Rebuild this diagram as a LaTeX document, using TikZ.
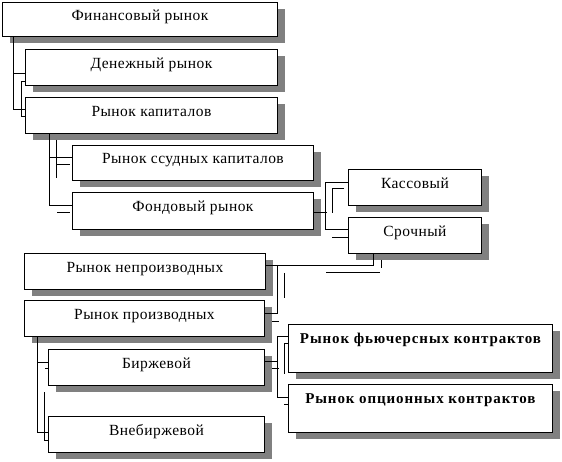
\documentclass[tikz,border=0pt]{standalone}
\usepackage{fontspec}
\setmainfont{Liberation Serif}
\usetikzlibrary{calc}
\tikzset{
  box/.style={draw=black, line width=0.9pt, fill=white, anchor=north west, inner sep=0pt,
    font=\fontsize{15.5}{18}\selectfont\addfontfeatures{LetterSpace=3}, text height=7pt, text depth=5pt},
  boldbox/.style={box, font=\fontsize{15}{18}\selectfont\bfseries\addfontfeatures{LetterSpace=6}, text height=7pt, text depth=17pt},
  shade/.style={fill=gray, draw=none},
  conn/.style={draw=black, line width=0.9pt},
}
\newcommand\mkbox[7]{%
  \fill[shade] (#3+8,-#4-7) rectangle (#5+8,-#6-7);
  \node[#2, minimum width=#5-#3, minimum height=#6-#4] (#1) at (#3,-#4) {#7};
}
\begin{document}
\begin{tikzpicture}[x=1pt,y=1pt]
\fill[white] (0,0) rectangle (562,-462);
\useasboundingbox (0,0) rectangle (562,-462);
\mkbox{fin}{box}{2}{2}{277}{36}{Финансовый рынок}
\mkbox{den}{box}{25}{49}{277}{85}{Денежный рынок}
\mkbox{kap}{box}{25}{97}{277}{133}{Рынок капиталов}
\mkbox{ssud}{box}{72}{145}{313}{180}{Рынок ссудных капиталов}
\mkbox{fond}{box}{72}{192}{313}{229}{Фондовый рынок}
\mkbox{kass}{box}{348}{169}{481}{205}{Кассовый}
\mkbox{sroch}{box}{348}{217}{481}{253}{Срочный}
\mkbox{neproizv}{box}{24}{253}{265}{289}{Рынок непроизводных}
\mkbox{proizv}{box}{24}{300}{264}{336}{Рынок производных}
\mkbox{fut}{boldbox}{288}{324}{552}{372}{Рынок фьючерсных контрактов}
\mkbox{opt}{boldbox}{288}{384}{552}{432}{Рынок опционных контрактов}
\mkbox{birzh}{box}{48}{349}{264}{385}{Биржевой}
\mkbox{vnebirzh}{box}{48}{416}{264}{452}{Внебиржевой}
% group A
\draw[conn] (13,0 |- fin.south) |- (den.west |- 0,-73);
\draw[conn] (13,-73) |- (kap.west |- 0,-109);
\draw[conn] (den.west |- 0,-81) -| (21,-116) -- (kap.west |- 0,-116);
% group B
\draw[conn] (49,0 |- kap.south) |- (ssud.west |- 0,-157);
\draw[conn] (49,-157) |- (fond.west |- 0,-205);
\draw[conn] (56,-140) -- (56,-178);
\draw[conn] (56,-164) -- (70,-164);
\draw[conn] (57,-212) -- (70,-212);
% group C
\draw[conn] (fond.east |- 0,-212) -- (327,-212);
\draw[conn] (kass.west |- 0,-182) -| (325,-229) -- (sroch.west |- 0,-229);
\draw[conn] (344,-188) -| (332,-213);
\draw[conn] (332,-237) -- (sroch.west |- 0,-237);
% group D
\draw[conn] (neproizv.east |- 0,-265) -| (373,0 |- sroch.south);
\draw[conn] (381,-260) -- (381,-268);
\draw[conn] (326,-272) -- (380,-272);
% group E
\draw[conn] (277,-265) |- (proizv.east |- 0,-313);
\draw[conn] (284,-273) -- (284,-298);
\draw[conn] (272,-321) -- (279,-321);
% group F
\draw[conn] (birzh.east |- 0,-361) -- (277,-361);
\draw[conn] (fut.west |- 0,-336) -| (277,-397) -- (opt.west |- 0,-397);
\draw[conn] (fut.west |- 0,-343) -| (284,-374);
\draw[conn] (284,-404) -- (opt.west |- 0,-404);
\draw[conn] (272,-368) -- (279,-368);
% group G
\draw[conn] (37,0 |- proizv.south) |- (birzh.west |- 0,-362);
\draw[conn] (37,-362) |- (vnebirzh.west |- 0,-432);
\draw[conn] (44,-392) |- (vnebirzh.west |- 0,-440);
\draw[conn] (45,-368) -- (birzh.west |- 0,-368);
\end{tikzpicture}
\end{document}
